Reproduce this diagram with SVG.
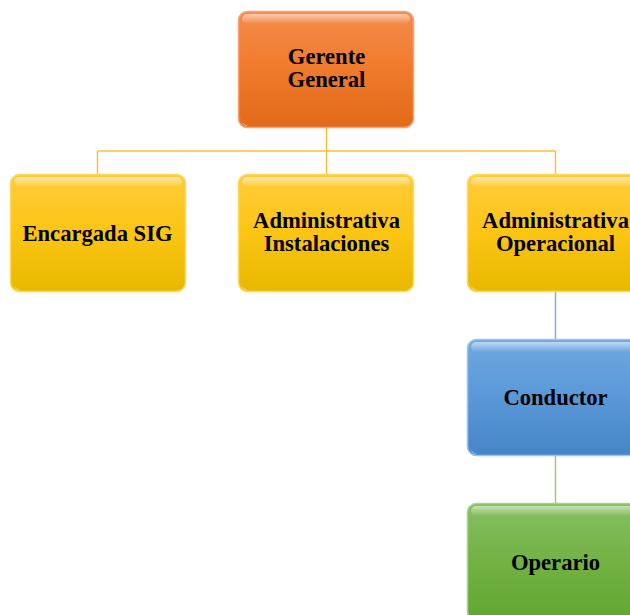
<svg xmlns="http://www.w3.org/2000/svg" width="630" height="615" viewBox="0 0 630 615">
<defs>
<linearGradient id="gOrange" x1="0" y1="0" x2="0" y2="1">
<stop offset="0" stop-color="#F48B4C"/><stop offset="0.5" stop-color="#F07A2C"/><stop offset="1" stop-color="#E26A18"/>
</linearGradient>
<linearGradient id="gYellow" x1="0" y1="0" x2="0" y2="1">
<stop offset="0" stop-color="#FFCC3A"/><stop offset="0.5" stop-color="#FCC514"/><stop offset="1" stop-color="#E8B800"/>
</linearGradient>
<linearGradient id="gBlue" x1="0" y1="0" x2="0" y2="1">
<stop offset="0" stop-color="#70A8E0"/><stop offset="0.5" stop-color="#5A98D8"/><stop offset="1" stop-color="#4585C6"/>
</linearGradient>
<linearGradient id="gGreen" x1="0" y1="0" x2="0" y2="1">
<stop offset="0" stop-color="#86BF62"/><stop offset="0.5" stop-color="#72B244"/><stop offset="1" stop-color="#62A632"/>
</linearGradient>
<linearGradient id="gShine" x1="0" y1="0" x2="0" y2="1">
<stop offset="0" stop-color="#FFFFFF" stop-opacity="0.55"/><stop offset="1" stop-color="#FFFFFF" stop-opacity="0"/>
</linearGradient>
</defs>
<style>
.box{stroke-width:1.5}
.shine{fill:url(#gShine)}
.spot{fill:#FFFFFF;opacity:0.85}
.lbl{font-family:"Liberation Serif","Times New Roman",serif;font-weight:bold;font-size:22.6px;fill:#000;text-anchor:middle}
.cn{fill:none;stroke-width:1.5}
</style>
<g id="connectors">
<path class="cn" stroke="#F9C23C" d="M326.5 128 V151 M97.5 151 H555.5 M97.5 151 V174 M326.5 151 V174 M555.5 151 V174"/>
<path class="cn" stroke="#7DB0E2" d="M555.5 292 V339"/>
<path class="cn" stroke="#9CCB7C" d="M555.5 456 V503"/>
</g>
<g id="gerente-general">
<rect class="box" x="238.5" y="11.5" width="175" height="116" rx="9" fill="url(#gOrange)" stroke="#F7A270"/>
<rect class="shine" x="242" y="14" width="168" height="10" rx="5"/>
<path class="spot" d="M240 117 q1 7 8 9 q-6 0 -8 -9z"/>
<text class="lbl" x="326.5" y="64">Gerente</text>
<text class="lbl" x="326.5" y="87">General</text>
</g>
<g id="encargada-sig">
<rect class="box" x="10.5" y="174.5" width="175" height="117" rx="9" fill="url(#gYellow)" stroke="#FFD860"/>
<rect class="shine" x="14" y="177" width="168" height="10" rx="5"/>
<path class="spot" d="M12 281 q1 7 8 9 q-6 0 -8 -9z"/>
<text class="lbl" x="97.5" y="241">Encargada SIG</text>
</g>
<g id="administrativa-instalaciones">
<rect class="box" x="238.5" y="174.5" width="175" height="117" rx="9" fill="url(#gYellow)" stroke="#FFD860"/>
<rect class="shine" x="242" y="177" width="168" height="10" rx="5"/>
<path class="spot" d="M240 281 q1 7 8 9 q-6 0 -8 -9z"/>
<text class="lbl" x="326.5" y="228">Administrativa</text>
<text class="lbl" x="326.5" y="251">Instalaciones</text>
</g>
<g id="administrativa-operacional">
<rect class="box" x="467.5" y="174.5" width="175" height="117" rx="9" fill="url(#gYellow)" stroke="#FFD860"/>
<rect class="shine" x="471" y="177" width="168" height="10" rx="5"/>
<path class="spot" d="M469 281 q1 7 8 9 q-6 0 -8 -9z"/>
<text class="lbl" x="555.5" y="228">Administrativa</text>
<text class="lbl" x="555.5" y="251">Operacional</text>
</g>
<g id="conductor">
<rect class="box" x="467.5" y="339.5" width="175" height="116" rx="9" fill="url(#gBlue)" stroke="#9CC4EC"/>
<rect class="shine" x="471" y="342" width="168" height="10" rx="5"/>
<path class="spot" d="M469 445 q1 7 8 9 q-6 0 -8 -9z"/>
<text class="lbl" x="555.5" y="405">Conductor</text>
</g>
<g id="operario">
<rect class="box" x="467.5" y="503.5" width="175" height="117" rx="9" fill="url(#gGreen)" stroke="#A8D48C"/>
<rect class="shine" x="471" y="506" width="168" height="10" rx="5"/>
<text class="lbl" x="555.5" y="570">Operario</text>
</g>
</svg>
